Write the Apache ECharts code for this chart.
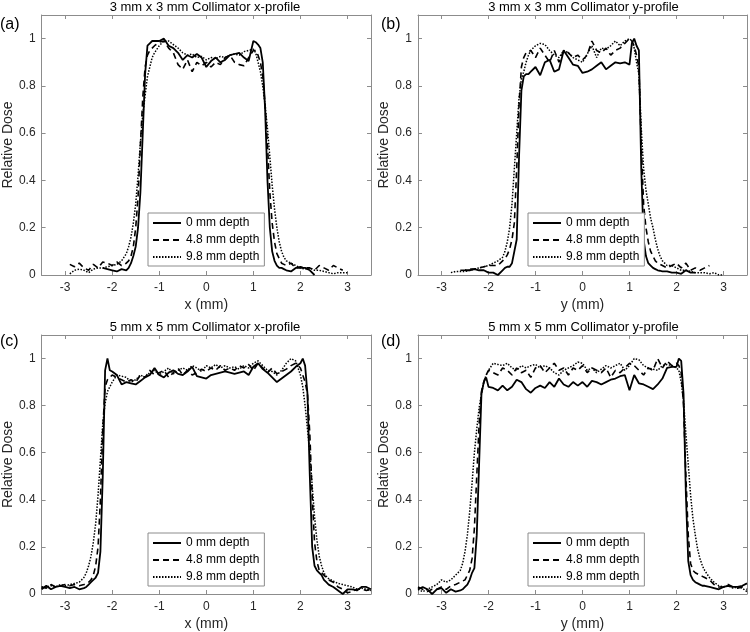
<!DOCTYPE html>
<html>
<head>
<meta charset="utf-8">
<title>Collimator dose profiles</title>
<script src="https://cdn.jsdelivr.net/npm/echarts@6/dist/echarts.min.js"></script>
<style>
html, body { margin: 0; padding: 0; background: #fff; }
#chart { width: 750px; height: 632px; }
</style>
</head>
<body>
<div id="chart"></div>
<script>
var depthNames = ['0 mm depth', '4.8 mm depth', '9.8 mm depth'];
var panelTitles = [
  '3 mm x 3 mm Collimator x-profile',
  '3 mm x 3 mm Collimator y-profile',
  '5 mm x 5 mm Collimator x-profile',
  '5 mm x 5 mm Collimator y-profile'
];
var panelTags = ['(a)', '(b)', '(c)', '(d)'];
var axisNames = ['x (mm)', 'y (mm)', 'x (mm)', 'y (mm)'];
var yName = 'Relative Dose';

// positions (mm) for the 3 mm collimator profiles
var pos3mm = [
  -2.9, -2.8, -2.7, -2.6, -2.5, -2.4, -2.3, -2.2, -2.1, -2.0, -1.9, -1.8, -1.7,
  -1.65, -1.6, -1.55, -1.5, -1.45, -1.4, -1.35, -1.3, -1.25, -1.2, -1.15, -1.1,
  -1.0, -0.9, -0.8, -0.7, -0.6, -0.5, -0.4, -0.3, -0.2, -0.1, 0, 0.1, 0.2, 0.3, 0.4, 0.5, 0.6, 0.7, 0.8, 0.9, 1.0,
  1.05, 1.1, 1.15, 1.2, 1.25, 1.3, 1.35, 1.4, 1.45, 1.5, 1.55, 1.6, 1.65, 1.7,
  1.8, 1.9, 2.0, 2.1, 2.2, 2.3, 2.4, 2.5, 2.6, 2.7, 2.8, 2.9, 3.0
];

// (a) 3 mm x-profile
var a0 = [
  null, null, null, null, null, null, null, 0.03, 0.025, 0.02, 0.015, 0.025, 0.02,
  0.03, 0.05, 0.08, 0.12, 0.2, 0.35, 0.6, 0.85, 0.97, 0.98, 0.99, 0.99,
  0.99, 1.0, 0.97, 0.96, 0.94, 0.91, 0.93, 0.92, 0.935, 0.92, 0.88, 0.905, 0.92, 0.9, 0.91, 0.93, 0.935, 0.94, 0.92, 0.905, 0.99,
  0.985, 0.975, 0.96, 0.9, 0.7, 0.4, 0.2, 0.1, 0.06, 0.04, 0.03, 0.03, 0.025, 0.02,
  0.015, 0.03, 0.03, 0.03, 0.02, 0.0, null, null, null, null, null, null, null
];
var a1 = [
  0.045, 0.035, 0.05, 0.03, 0.02, 0.045, 0.03, 0.055, 0.05, 0.04, 0.055, 0.04, 0.05,
  0.06, 0.08, 0.12, 0.2, 0.33, 0.55, 0.75, 0.88, 0.93, 0.95, 0.96, 0.97,
  0.985, 0.99, 0.96, 0.94, 0.89, 0.87, 0.91, 0.86, 0.9, 0.885, 0.9, 0.88, 0.9, 0.89, 0.92, 0.93, 0.9, 0.89, 0.885, 0.92, 0.95,
  0.95, 0.93, 0.9, 0.84, 0.72, 0.55, 0.35, 0.22, 0.14, 0.09, 0.07, 0.05, 0.045, 0.04,
  0.05, 0.03, 0.035, 0.03, 0.03, 0.02, 0.04, 0.03, 0.02, 0.04, 0.03, 0.02, null
];
var a2 = [
  0.005, 0.02, 0.025, 0.02, 0.01, 0.025, 0.03, 0.03, 0.035, 0.04, 0.045, 0.06, 0.09,
  0.12, 0.16, 0.22, 0.3, 0.42, 0.56, 0.68, 0.76, 0.84, 0.88, 0.92, 0.94,
  0.97, 0.99, 0.99, 0.975, 0.96, 0.94, 0.93, 0.935, 0.92, 0.925, 0.91, 0.92, 0.915, 0.925, 0.92, 0.93, 0.935, 0.93, 0.945, 0.95, 0.955,
  0.94, 0.9, 0.86, 0.8, 0.72, 0.62, 0.5, 0.38, 0.28, 0.2, 0.14, 0.1, 0.075, 0.06,
  0.05, 0.04, 0.03, 0.025, 0.03, 0.02, 0.02, 0.015, 0.01, 0.005, 0.01, 0.01, 0.01
];

// (b) 3 mm y-profile
var b0 = [
  null, null, null, null, 0.02, 0.02, 0.025, 0.02, 0.02, 0.01, 0.01, 0.0, 0.02,
  0.03, 0.035, 0.035, 0.05, 0.1, 0.15, 0.5, 0.78, 0.84, 0.85, 0.85, 0.86,
  0.88, 0.845, 0.9, 0.91, 0.86, 0.87, 0.95, 0.92, 0.89, 0.885, 0.855, 0.86, 0.87, 0.885, 0.9, 0.87, 0.885, 0.9, 0.895, 0.9, 0.89,
  0.98, 1.0, 0.97, 0.95, 0.45, 0.15, 0.08, 0.05, 0.04, 0.03, 0.025, 0.02, 0.018, 0.015,
  0.015, 0.01, 0.01, 0.005, 0.02, 0.01, 0.01, null, null, null, null, null, null
];
var b1 = [
  null, null, null, 0.02, 0.02, 0.025, 0.025, 0.03, 0.035, 0.04, 0.04, 0.04, 0.06,
  0.07, 0.085, 0.11, 0.15, 0.22, 0.45, 0.72, 0.88, 0.92, 0.94, 0.945, 0.95,
  0.92, 0.96, 0.93, 0.9, 0.95, 0.9, 0.95, 0.94, 0.92, 0.93, 0.91, 0.93, 0.99, 0.95, 0.94, 0.96, 0.93, 0.95, 0.96, 0.98, 1.0,
  0.99, 0.97, 0.93, 0.88, 0.55, 0.3, 0.2, 0.14, 0.1, 0.08, 0.06, 0.05, 0.045, 0.04,
  0.03, 0.04, 0.05, 0.03, 0.05, 0.02, 0.03, 0.02, 0.03, 0.04, null, null, null
];
var b2 = [
  null, 0.01, 0.015, 0.015, 0.015, 0.02, 0.025, 0.03, 0.035, 0.04, 0.05, 0.06, 0.075,
  0.1, 0.14, 0.2, 0.3, 0.45, 0.6, 0.75, 0.83, 0.86, 0.9, 0.93, 0.95,
  0.97, 0.98, 0.975, 0.95, 0.93, 0.92, 0.95, 0.94, 0.92, 0.91, 0.9, 0.935, 0.97, 0.92, 0.96, 0.955, 0.97, 0.99, 0.97, 0.99, 1.0,
  0.99, 0.96, 0.9, 0.85, 0.62, 0.45, 0.36, 0.3, 0.24, 0.2, 0.15, 0.11, 0.08, 0.06,
  0.04, 0.04, 0.03, 0.02, 0.02, 0.015, 0.01, 0.01, 0.01, 0.005, 0.01, 0.0, 0.0
];

// positions (mm) for the 5 mm collimator profiles
var pos5mm = [
  -3.5, -3.4, -3.3, -3.2, -3.1, -3.0, -2.9, -2.8, -2.7, -2.6,
  -2.55, -2.5, -2.45, -2.4, -2.35, -2.3, -2.25, -2.2, -2.15, -2.1, -2.05, -2.0,
  -1.9, -1.8, -1.7, -1.6, -1.5, -1.4, -1.3, -1.2, -1.1, -1.0, -0.9, -0.8, -0.7, -0.6, -0.5, -0.4, -0.3, -0.2, -0.1,
  0, 0.1, 0.2, 0.3, 0.4, 0.5, 0.6, 0.7, 0.8, 0.9, 1.0, 1.1, 1.2, 1.3, 1.4, 1.5, 1.6, 1.7, 1.8, 1.9,
  2.0, 2.05, 2.1, 2.15, 2.2, 2.25, 2.3, 2.35, 2.4, 2.45, 2.5, 2.55, 2.6,
  2.7, 2.8, 2.9, 3.0, 3.1, 3.2, 3.3, 3.4, 3.5
];

// (c) 5 mm x-profile
var c0 = [
  0.02, 0.035, 0.02, 0.03, 0.035, 0.03, 0.025, 0.03, 0.02, 0.025,
  0.03, 0.04, 0.05, 0.06, 0.07, 0.09, 0.18, 0.5, 0.95, 1.0, 0.95, 0.945,
  0.93, 0.89, 0.9, 0.895, 0.89, 0.905, 0.92, 0.93, 0.96, 0.93, 0.92, 0.94, 0.95, 0.935, 0.93, 0.945, 0.965, 0.925, 0.92,
  0.915, 0.93, 0.935, 0.94, 0.945, 0.94, 0.935, 0.94, 0.945, 0.93, 0.965, 0.98, 0.955, 0.94, 0.92, 0.9, 0.915, 0.93, 0.945, 0.965,
  0.98, 1.0, 0.97, 0.85, 0.5, 0.2, 0.12, 0.1, 0.09, 0.08, 0.06, 0.05, 0.04,
  0.03, 0.015, 0.0, 0.02, 0.02, 0.015, 0.03, 0.03, 0.02
];
var c1 = [
  0.03, 0.025, 0.04, 0.03, 0.035, 0.04, 0.035, 0.04, 0.035, 0.04,
  0.045, 0.05, 0.06, 0.08, 0.12, 0.2, 0.4, 0.7, 0.88, 0.91, 0.92, 0.93,
  0.92, 0.91, 0.9, 0.91, 0.9, 0.93, 0.92, 0.95, 0.93, 0.94, 0.95, 0.92, 0.94, 0.96, 0.93, 0.95, 0.93, 0.94, 0.955,
  0.945, 0.96, 0.95, 0.97, 0.95, 0.96, 0.95, 0.97, 0.96, 0.975, 0.95, 0.98, 0.96, 0.94, 0.96, 0.935, 0.945, 0.955, 0.97, 0.98,
  0.96, 0.93, 0.9, 0.85, 0.68, 0.42, 0.22, 0.14, 0.1, 0.09, 0.08, 0.07, 0.06,
  0.05, 0.03, 0.02, 0.005, 0.01, 0.02, 0.02, 0.015, 0.02
];
var c2 = [
  0.03, 0.03, 0.035, 0.03, 0.04, 0.035, 0.04, 0.045, 0.05, 0.07,
  0.09, 0.12, 0.16, 0.22, 0.3, 0.42, 0.57, 0.72, 0.81, 0.86, 0.88, 0.9,
  0.93, 0.925, 0.92, 0.9, 0.91, 0.93, 0.92, 0.94, 0.95, 0.93, 0.945, 0.96, 0.935, 0.95, 0.96, 0.95, 0.97, 0.96, 0.945,
  0.97, 0.96, 0.975, 0.96, 0.97, 0.96, 0.965, 0.955, 0.97, 0.96, 0.98, 0.99, 0.97, 0.95, 0.945, 0.93, 0.95, 0.98, 1.0, 0.99,
  0.93, 0.88, 0.8, 0.7, 0.6, 0.46, 0.33, 0.23, 0.16, 0.12, 0.09, 0.075, 0.065,
  0.055, 0.045, 0.04, 0.035, 0.03, 0.02, 0.025, 0.02, 0.015
];

// (d) 5 mm y-profile
var d0 = [
  0.02, 0.03, 0.02, 0.0, 0.02, 0.025, 0.005, 0.02, 0.01, 0.015,
  0.02, 0.03, 0.04, 0.06, 0.09, 0.11, 0.25, 0.55, 0.85, 0.9, 0.92, 0.88,
  0.875, 0.865, 0.885, 0.865, 0.88, 0.91, 0.9, 0.87, 0.855, 0.875, 0.885, 0.875, 0.9, 0.88, 0.915, 0.89, 0.88, 0.9, 0.885,
  0.9, 0.88, 0.905, 0.9, 0.89, 0.9, 0.91, 0.915, 0.925, 0.93, 0.865, 0.93, 0.895, 0.89, 0.88, 0.87, 0.89, 0.915, 0.96, 0.965,
  0.965, 1.0, 0.99, 0.85, 0.42, 0.14, 0.08, 0.06, 0.05, 0.045, 0.04, 0.035, 0.035,
  0.03, 0.025, 0.02, 0.03, 0.035, 0.03, 0.03, 0.035, 0.045
];
var d1 = [
  0.03, 0.02, 0.01, 0.02, 0.02, 0.03, 0.02, 0.035, 0.04, 0.05,
  0.055, 0.06, 0.08, 0.1, 0.15, 0.28, 0.5, 0.72, 0.86, 0.9, 0.93, 0.95,
  0.94, 0.93, 0.96, 0.95, 0.93, 0.96, 0.94, 0.95, 0.92, 0.96, 0.97, 0.94, 0.96, 0.98, 0.95, 0.96, 0.93, 0.96, 0.95,
  0.97, 0.94, 0.96, 0.95, 0.94, 0.96, 0.92, 0.95, 0.94, 0.96, 0.98, 0.97, 0.95, 0.93, 0.96, 0.95, 1.0, 0.96, 0.99, 0.97,
  0.98, 0.97, 0.94, 0.8, 0.5, 0.25, 0.13, 0.1, 0.09, 0.085, 0.08, 0.075, 0.07,
  0.06, 0.04, 0.03, 0.03, 0.04, 0.03, 0.025, 0.03, 0.02
];
var d2 = [
  0.02, 0.01, 0.02, 0.03, 0.04, 0.06, 0.05, 0.06, 0.08, 0.1,
  0.13, 0.18, 0.25, 0.35, 0.47, 0.6, 0.7, 0.79, 0.85, 0.9, 0.93, 0.95,
  0.98, 0.975, 0.97, 0.98, 0.96, 0.95, 0.97, 0.96, 0.97, 0.975, 0.96, 0.97, 0.96, 0.94, 0.93, 0.95, 0.96, 0.97, 0.985,
  0.98, 0.95, 0.96, 0.94, 0.955, 0.97, 0.96, 0.97, 0.98, 0.95, 0.97, 1.0, 0.995, 0.97, 0.96, 0.955, 0.95, 0.97, 0.975, 0.97,
  0.96, 0.95, 0.9, 0.82, 0.68, 0.55, 0.42, 0.32, 0.25, 0.19, 0.15, 0.12, 0.1,
  0.07, 0.05, 0.035, 0.03, 0.035, 0.025, 0.03, 0.025, 0.01
];

var FONT = '"Liberation Sans", Arial, sans-serif';
var BOX = '#8c8c8c';
var TXT = '#262626';

var panels = [
  { xs: pos3mm, ys: [a0, a1, a2], left: 39, top: 15, width: 332, height: 260, legendLeft: 148, legendTop: 213, tagX: 0, tagY: 25 },
  { xs: pos3mm, ys: [b0, b1, b2], left: 418, top: 15, width: 331, height: 260, legendLeft: 528, legendTop: 213, tagX: 381, tagY: 25 },
  { xs: pos5mm, ys: [c0, c1, c2], left: 39, top: 335, width: 332, height: 259, legendLeft: 148, legendTop: 533, tagX: 0, tagY: 342 },
  { xs: pos5mm, ys: [d0, d1, d2], left: 418, top: 335, width: 331, height: 259, legendLeft: 528, legendTop: 533, tagX: 381, tagY: 342 }
];

var lineStyles = [
  { width: 1.8, type: 'solid' },
  { width: 1.6, type: [6, 4] },
  { width: 1.5, type: [1.5, 1.5] }
];

function xAxisFor(k, position, main) {
  return {
    type: 'value', gridIndex: k, position: position,
    min: -3.5, max: 3.5, splitNumber: 7,
    name: main ? axisNames[k] : '',
    nameLocation: 'middle', nameGap: 23,
    nameTextStyle: { fontSize: 14, color: TXT, fontFamily: FONT },
    axisLine: { show: true, onZero: false, lineStyle: { color: BOX, width: 1 } },
    axisTick: { show: true, inside: true, length: 4, lineStyle: { color: BOX } },
    axisLabel: {
      show: main, margin: 7, fontSize: 12, color: TXT, fontFamily: FONT,
      formatter: function (v) { return Math.abs(v - Math.round(v)) > 1e-6 ? '' : String(Math.round(v)); }
    },
    splitLine: { show: false }
  };
}

function yAxisFor(k, position, main) {
  return {
    type: 'value', gridIndex: k, position: position,
    min: 0, max: 1.1, interval: 0.2,
    name: main ? yName : '',
    nameLocation: 'middle', nameGap: 25,
    nameTextStyle: { fontSize: 14, color: TXT, fontFamily: FONT },
    axisLine: { show: true, onZero: false, lineStyle: { color: BOX, width: 1 } },
    axisTick: { show: true, inside: true, length: 4, lineStyle: { color: BOX } },
    axisLabel: {
      show: main, margin: 6, fontSize: 12, color: TXT, fontFamily: FONT,
      formatter: function (v) { return v > 1.05 ? '' : String(+v.toFixed(1)); }
    },
    splitLine: { show: false }
  };
}

var grids = [], xAxes = [], yAxes = [], series = [], legends = [], texts = [];

panels.forEach(function (p, k) {
  grids.push({ left: p.left, top: p.top, width: p.width, height: p.height });
  xAxes.push(xAxisFor(k, 'bottom', true));
  xAxes.push(xAxisFor(k, 'top', false));
  yAxes.push(yAxisFor(k, 'left', true));
  yAxes.push(yAxisFor(k, 'right', false));

  // draw dotted first so the solid profile sits on top
  for (var j = 2; j >= 0; j--) {
    var ys = p.ys[j];
    var pts = p.xs.map(function (x, i) { return [x, ys[i]]; })
      .filter(function (d) { return d[1] !== null; });
    series.push({
      name: depthNames[j],
      type: 'line',
      xAxisIndex: 2 * k,
      yAxisIndex: 2 * k,
      data: pts,
      symbol: 'none',
      showSymbol: false,
      silent: true,
      lineStyle: { color: '#000', width: lineStyles[j].width, type: lineStyles[j].type },
      itemStyle: { color: '#000' }
    });
  }

  legends.push({
    data: depthNames,
    orient: 'vertical',
    left: p.legendLeft,
    top: p.legendTop,
    itemWidth: 28,
    itemHeight: 12,
    itemGap: 5,
    padding: [4, 5, 3, 4],
    borderColor: BOX,
    borderWidth: 1,
    borderRadius: 0,
    backgroundColor: '#fff',
    selectedMode: false,
    // hide the marker so only the line sample shows
    itemStyle: { color: 'rgba(0,0,0,0)', borderWidth: 0, opacity: 0 },
    textStyle: { fontSize: 12, color: '#000', fontFamily: FONT }
  });

  texts.push({
    type: 'text',
    x: p.left + p.width / 2,
    y: p.top - 8,
    style: {
      text: panelTitles[k], fill: '#000', font: '13px ' + FONT,
      align: 'center', verticalAlign: 'middle'
    }
  });
  texts.push({
    type: 'text',
    x: p.tagX,
    y: p.tagY,
    style: {
      text: panelTags[k], fill: '#000', font: '16px ' + FONT,
      align: 'left', verticalAlign: 'middle'
    }
  });
});

var chart = echarts.init(document.getElementById('chart'), null, { renderer: 'canvas' });
chart.setOption({
  animation: false,
  backgroundColor: '#fff',
  grid: grids,
  xAxis: xAxes,
  yAxis: yAxes,
  legend: legends,
  series: series,
  graphic: { elements: texts }
});
</script>
</body>
</html>
